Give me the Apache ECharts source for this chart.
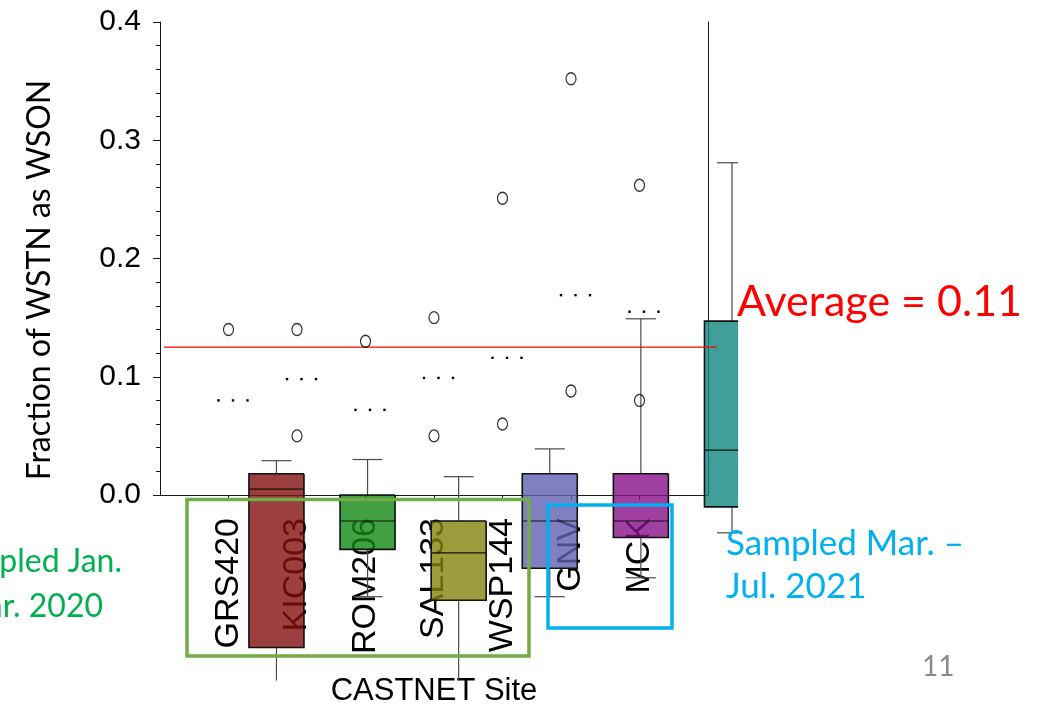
<!DOCTYPE html>
<html><head><meta charset="utf-8">
<script src="https://cdn.jsdelivr.net/npm/echarts@6/dist/echarts.min.js"></script>
<style>html,body{margin:0;padding:0;background:#fff}#c{width:1049px;height:710px}</style>
</head><body><div id="c"></div>
<script>
// ---- data ----
const sites = ['GRS420', 'KIC003', 'ROM206', 'SAL133', 'WSP144', 'GNV', 'MCK'];
const yTicks = [0.0, 0.1, 0.2, 0.3, 0.4];
// outliers: site number (1..7) and value
const outlierSite = [1, 2, 2, 3, 4, 4, 5, 5, 6, 6, 7, 7];
const outlierValue = [0.140, 0.140, 0.050, 0.130, 0.150, 0.050, 0.251, 0.060, 0.352, 0.088, 0.262, 0.080];
// means (drawn as "...")
const meanValue = [0.080, 0.098, 0.072, 0.099, 0.116, 0.169, 0.155];
// boxes (as placed in the picture, on the same 0..8 site scale)
const boxPos = [1.70, 3.03, 4.36, 5.69, 7.02, 8.35];
const boxLow = [-0.170, -0.086, -0.170, -0.086, -0.070, -0.032];
const boxQ1 = [-0.129, -0.046, -0.089, -0.062, -0.036, -0.010];
const boxMed = [0.005, -0.022, -0.049, -0.022, -0.022, 0.038];
const boxQ3 = [0.018, 0.000, -0.022, 0.018, 0.018, 0.147];
const boxHigh = [0.029, 0.030, 0.0155, 0.039, 0.149, 0.281];
const boxColors = ['#830f0f', '#118811', '#84840c', '#6060b0', '#881088', '#108880'];
const averageValue = 0.125;
const averageSpan = [0.06, 8.13];
// edges where the pasted chart image was cropped (in data units)
const cropRightX = 8.44;
const cropBottomY = -0.157;

const chart = echarts.init(document.getElementById('c'));
const AX = '#1a1a1a';
const chartFont = "'Liberation Sans', Arial, sans-serif";
const slideFont = "Lato, 'Open Sans', sans-serif";

const boxData = boxPos.map((p, i) => [p, boxLow[i], boxQ1[i], boxMed[i], boxQ3[i], boxHigh[i]]);
const meanData = meanValue.map((v, i) => [i + 1, v]);
const outlierData = outlierValue.map((v, i) => [outlierSite[i], v]);

function renderBox(params, api) {
  const x = api.value(0);
  const cx = api.coord([x, 0])[0];
  const yLow = api.coord([x, api.value(1)])[1];
  const yQ1 = api.coord([x, api.value(2)])[1];
  const yMed = api.coord([x, api.value(3)])[1];
  const yQ3 = api.coord([x, api.value(4)])[1];
  const yHigh = api.coord([x, api.value(5)])[1];
  const clipX = api.coord([cropRightX, 0])[0];
  const clipY = api.coord([0, cropBottomY])[1];
  const halfW = 27.5, capHalf = 15;
  const L = cx - halfW, R0 = cx + halfW, R = Math.min(R0, clipX);
  const wl = { stroke: '#4a4a4a', lineWidth: 1.2 };
  const ch = [];
  ch.push({ type: 'line', shape: { x1: cx, y1: yQ3, x2: cx, y2: yHigh }, style: wl });
  ch.push({ type: 'line', shape: { x1: cx - capHalf, y1: yHigh, x2: Math.min(cx + capHalf, clipX), y2: yHigh }, style: wl });
  const lowEnd = Math.min(yLow, clipY);
  ch.push({ type: 'line', shape: { x1: cx, y1: yQ1, x2: cx, y2: lowEnd }, style: wl });
  if (yLow <= clipY) {
    ch.push({ type: 'line', shape: { x1: cx - capHalf, y1: yLow, x2: Math.min(cx + capHalf, clipX), y2: yLow }, style: wl });
  }
  ch.push({ type: 'rect', shape: { x: L, y: yQ3, width: R - L, height: yQ1 - yQ3 },
    style: { fill: boxColors[params.dataIndex], opacity: 0.8 } });
  const pts = R < R0 ? [[R, yQ3], [L, yQ3], [L, yQ1], [R, yQ1]] : [[R, yQ3], [L, yQ3], [L, yQ1], [R, yQ1], [R, yQ3]];
  ch.push({ type: 'polyline', shape: { points: pts }, style: { stroke: '#111', lineWidth: 1.6, fill: null } });
  ch.push({ type: 'line', shape: { x1: L, y1: yMed, x2: R, y2: yMed }, style: { stroke: '#111', lineWidth: 1.2 } });
  return { type: 'group', children: ch };
}

function renderMean(params, api) {
  const p = api.coord([api.value(0), api.value(1)]);
  return { type: 'group', children: [-10, 4.5, 19].map(dx => ({
    type: 'rect', shape: { x: p[0] + dx - 1.2, y: p[1] - 1.2, width: 2.4, height: 2.4 }, style: { fill: '#000' }
  })) };
}

function renderAverage(params, api) {
  const a = api.coord([api.value(0), api.value(2)]);
  const b = api.coord([api.value(1), api.value(2)]);
  return { type: 'line', shape: { x1: a[0], y1: a[1], x2: b[0], y2: b[1] },
    style: { stroke: '#ff0000', lineWidth: 1.2 } };
}

const option = {
  animation: false,
  backgroundColor: '#fff',
  grid: { left: 160, right: 341, top: 22, bottom: 215, outerBoundsMode: 'none', containLabel: false },
  xAxis: [
    { type: 'value', min: 0, max: 8, position: 'top',
      axisLine: { show: true, lineStyle: { color: AX, width: 1 } },
      axisTick: { show: false }, axisLabel: { show: false }, splitLine: { show: false } },
    { type: 'category', position: 'bottom', boundaryGap: false,
      data: [''].concat(sites, ['']),
      axisLine: { show: true, lineStyle: { color: AX, width: 1 } },
      axisTick: { show: true, length: 5, lineStyle: { color: AX }, interval: (i) => i > 0 && i < sites.length + 1 },
      axisLabel: { show: true, interval: 0, rotate: 90, margin: 23, fontSize: 34, fontFamily: chartFont, color: '#000' },
      name: 'CASTNET Site', nameLocation: 'middle', nameGap: 181,
      nameTextStyle: { fontSize: 31, fontFamily: chartFont, color: '#000' },
      splitLine: { show: false } }
  ],
  yAxis: [
    { type: 'value', min: yTicks[0], max: yTicks[yTicks.length - 1], interval: 0.1, position: 'left',
      axisLine: { show: true, lineStyle: { color: AX, width: 1 } },
      axisTick: { show: true, length: 7, lineStyle: { color: AX } },
      minorTick: { show: true, splitNumber: 5, length: 4, lineStyle: { color: AX } },
      axisLabel: { margin: 19, fontSize: 30, fontFamily: chartFont, color: '#000', formatter: v => v.toFixed(1) },
      splitLine: { show: false } },
    { type: 'value', min: yTicks[0], max: yTicks[yTicks.length - 1], position: 'right',
      axisLine: { show: true, lineStyle: { color: AX, width: 1 } },
      axisTick: { show: false }, axisLabel: { show: false }, splitLine: { show: false } }
  ],
  series: [
    { type: 'custom', xAxisIndex: 0, yAxisIndex: 0, clip: false, renderItem: renderBox,
      encode: { x: 0, y: [1, 2, 3, 4, 5] }, data: boxData, z: 3 },
    { type: 'custom', xAxisIndex: 0, yAxisIndex: 0, clip: false, renderItem: renderAverage, silent: true,
      encode: { x: [0, 1], y: 2 }, data: [[averageSpan[0], averageSpan[1], averageValue]], z: 4 },
    { type: 'custom', xAxisIndex: 0, yAxisIndex: 0, clip: false, renderItem: renderMean,
      encode: { x: 0, y: 1 }, data: meanData, z: 4 },
    { type: 'scatter', xAxisIndex: 0, yAxisIndex: 0, symbol: 'circle', symbolSize: [10, 12],
      itemStyle: { color: 'rgba(0,0,0,0)', borderColor: '#000', borderWidth: 1.3 },
      data: outlierData, z: 5 }
  ],
  graphic: [
    { type: 'text', x: 40, y: 280, rotation: Math.PI / 2, z: 100,
      style: { text: 'Fraction of WSTN as WSON', fontSize: 32, fontFamily: slideFont, fill: '#000', align: 'center', verticalAlign: 'middle' } },
    { type: 'rect', z: 100, shape: { x: 187, y: 499.5, width: 342, height: 156.5 },
      style: { fill: null, stroke: '#70AD47', lineWidth: 3.5 } },
    { type: 'rect', z: 100, shape: { x: 548, y: 505, width: 124, height: 123 },
      style: { fill: null, stroke: '#00B0F0', lineWidth: 3.5 } },
    { type: 'text', x: 737, y: 302, z: 100,
      style: { text: 'Average = 0.11', fontSize: 43, fontFamily: slideFont, fill: '#ff0000', align: 'left', verticalAlign: 'middle' } },
    { type: 'text', x: 726, y: 544, z: 100,
      style: { text: 'Sampled Mar. –', fontSize: 35, fontFamily: slideFont, fill: '#00B0F0', align: 'left', verticalAlign: 'middle' } },
    { type: 'text', x: 726, y: 587, z: 100,
      style: { text: 'Jul. 2021', fontSize: 35, fontFamily: slideFont, fill: '#00B0F0', align: 'left', verticalAlign: 'middle' } },
    { type: 'text', x: 122, y: 561.5, z: 100,
      style: { text: 'Sampled Jan.', fontSize: 32, fontFamily: slideFont, fill: '#00B050', align: 'right', verticalAlign: 'middle' } },
    { type: 'text', x: 103, y: 607, z: 100,
      style: { text: '– Mar. 2020', fontSize: 32, fontFamily: slideFont, fill: '#00B050', align: 'right', verticalAlign: 'middle' } },
    { type: 'text', x: 922, y: 667, z: 100,
      style: { text: '11', fontSize: 28, fontFamily: slideFont, fill: '#898989', align: 'left', verticalAlign: 'middle' } }
  ]
};
chart.setOption(option);
</script>
</body></html>
